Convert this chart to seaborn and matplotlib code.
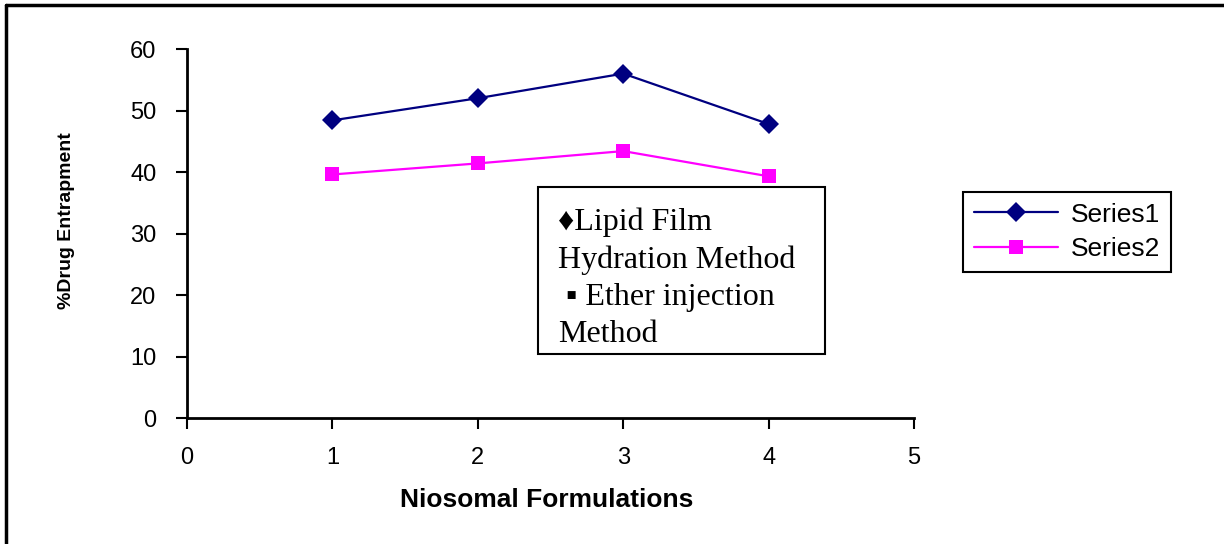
import pandas as pd
import matplotlib.pyplot as plt
import seaborn as sns
from matplotlib.lines import Line2D
from matplotlib.patches import Rectangle

# --- Data ---
formulations = [1, 2, 3, 4]
series1 = [48.4, 52.0, 56.0, 47.8]   # Lipid film hydration method
series2 = [39.6, 41.4, 43.4, 39.3]   # Ether injection method
series_names = ["Series1", "Series2"]
x_ticks = [0, 1, 2, 3, 4, 5]
y_ticks = [0, 10, 20, 30, 40, 50, 60]

df = pd.DataFrame({
    "x": formulations * 2,
    "y": series1 + series2,
    "series": [series_names[0]] * 4 + [series_names[1]] * 4,
})

# --- Style ---
sns.set_style("white")
plt.rcParams["font.family"] = ["Liberation Sans", "DejaVu Sans"]
plt.rcParams.update({"text.color": "black", "axes.labelcolor": "black",
                     "xtick.color": "black", "ytick.color": "black"})

fig = plt.figure(figsize=(12.24, 5.44), dpi=100)
ax = fig.add_axes([0.1528, 0.2316, 0.5940, 0.6783])

sns.lineplot(data=df, x="x", y="y", hue="series", style="series",
             palette={"Series1": "#000080", "Series2": "#FF00FF"},
             markers={"Series1": "D", "Series2": "s"}, dashes=False,
             markersize=10, markeredgewidth=0, linewidth=1.6, ax=ax)

# grab seaborn's legend handles, rebuild the legend outside the axes
leg = ax.get_legend()
handles = leg.legend_handles
labels = [t.get_text() for t in leg.get_texts()]
leg.remove()
fig.legend(handles, labels, loc="upper left", bbox_to_anchor=(0.7868, 0.6471),
           frameon=True, fancybox=False, edgecolor="black", framealpha=1,
           fontsize=19, handlelength=3.2, borderpad=0.4, labelspacing=0.4,
           handletextpad=0.5, borderaxespad=0).get_frame().set_linewidth(1.5)

# --- Axes ---
ax.set_xlim(0, 5)
ax.set_ylim(0, 60)
ax.set_xticks(x_ticks)
ax.set_yticks(y_ticks)
for side in ["top", "right"]:
    ax.spines[side].set_visible(False)
for side in ["left", "bottom"]:
    ax.spines[side].set_color("black")
    ax.spines[side].set_linewidth(2)
ax.tick_params(axis="both", direction="out", length=8, width=1.5,
               color="black", labelcolor="black", labelsize=17,
               left=True, bottom=True)
ax.tick_params(axis="y", pad=14)
ax.tick_params(axis="x", pad=13)

ax.set_ylabel("%Drug Entrapment", fontsize=14, fontweight="bold")
ax.yaxis.set_label_coords(-0.154, 0.535)
ax.set_xlabel("Niosomal Formulations", fontsize=19, fontweight="bold")
ax.xaxis.set_label_coords(0.495, -0.222)
ax.xaxis.label.set_va("center")

# --- Text box inside the plot ---
fig.add_artist(Rectangle((0.4395, 0.3493), 0.2345, 0.307, transform=fig.transFigure,
                         facecolor="white", edgecolor="black", linewidth=1.5))
fig.text(0.4559, 0.6194,
         "\u2666Lipid Film\nHydration Method\n \u25aa Ether injection\nMethod",
         family=["Liberation Serif", "DejaVu Serif"], fontsize=23, color="black",
         va="top", ha="left", linespacing=1.38)

# --- Outer frame (top and left edges only visible) ---
fig.add_artist(Line2D([0.0049, 1.0], [0.9899, 0.9899], transform=fig.transFigure,
                      color="black", linewidth=2.5))
fig.add_artist(Line2D([0.0049, 0.0049], [0.0, 0.9899], transform=fig.transFigure,
                      color="black", linewidth=2.5))

fig.savefig("out.png", dpi=100, facecolor="white")
